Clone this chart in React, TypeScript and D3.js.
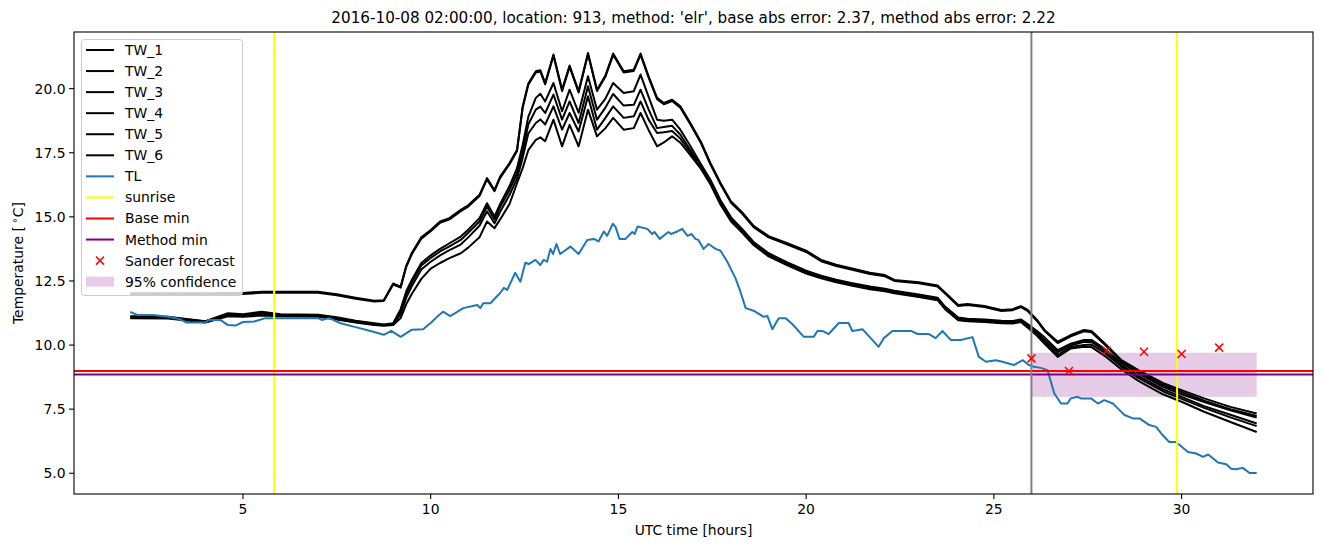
import React from 'react';
import * as d3 from 'd3';

const W = 1324;
const H = 547;
const PLOT = { left: 74, right: 1313, top: 32, bottom: 494 };

const twHours = [2.0, 3.0, 4.0, 4.6, 5.0, 5.5, 6.0, 7.0, 7.5, 8.0, 8.5, 8.75, 9.0, 9.2, 9.35, 9.5, 9.75, 10.0, 10.25, 10.5, 10.8, 11.0, 11.3, 11.5, 11.7, 11.85, 12.1, 12.3, 12.45, 12.6, 12.8, 12.92, 13.05, 13.27, 13.5, 13.7, 13.94, 14.19, 14.43, 14.65, 14.86, 15.14, 15.41, 15.59, 15.8, 16.03, 16.21, 16.43, 16.65, 16.92, 17.2, 17.45, 17.72, 18.0, 18.3, 18.6, 19.0, 19.5, 20.0, 20.4, 20.8, 21.2, 21.7, 22.1, 22.35, 23.0, 23.5, 23.7, 24.05, 24.3, 24.75, 25.2, 25.5, 25.72, 25.9, 26.15, 26.35, 26.7, 27.05, 27.4, 27.6, 27.95, 28.4, 28.85, 29.5, 30.0, 30.6, 31.3, 32.0];

const tw1 = [12.02, 12.02, 12.02, 12.03, 12.03, 12.08, 12.08, 12.08, 11.98, 11.85, 11.73, 11.75, 12.4, 12.28, 13.1, 13.6, 14.2, 14.49, 14.82, 14.95, 15.27, 15.45, 15.86, 16.51, 16.05, 16.57, 17.1, 17.62, 19.3, 20.2, 20.68, 20.72, 20.22, 21.33, 19.96, 20.9, 19.9, 21.39, 19.96, 20.5, 21.37, 20.68, 20.74, 21.37, 20.5, 19.64, 19.44, 19.57, 19.31, 18.65, 17.92, 17.1, 16.32, 15.6, 15.17, 14.65, 14.25, 13.97, 13.68, 13.32, 13.13, 13.0, 12.82, 12.73, 12.54, 12.45, 12.32, 12.05, 11.56, 11.6, 11.52, 11.37, 11.4, 11.52, 11.37, 10.98, 10.59, 10.13, 10.39, 10.59, 10.55, 10.07, 9.41, 9.02, 8.52, 8.24, 7.92, 7.59, 7.33];
const tw2 = [11.98, 11.98, 11.98, 11.99, 11.99, 12.04, 12.04, 12.04, 11.94, 11.81, 11.7, 11.72, 12.36, 12.24, 13.05, 13.55, 14.15, 14.44, 14.77, 14.9, 15.22, 15.4, 15.81, 16.46, 16.0, 16.52, 17.05, 17.57, 19.25, 20.15, 20.63, 20.67, 20.17, 21.28, 19.91, 20.85, 19.85, 21.34, 19.91, 20.45, 21.32, 20.63, 20.69, 21.32, 20.45, 19.59, 19.39, 19.52, 19.26, 18.6, 17.87, 17.05, 16.27, 15.55, 15.12, 14.6, 14.2, 13.92, 13.63, 13.27, 13.08, 12.95, 12.77, 12.68, 12.5, 12.41, 12.28, 12.01, 11.52, 11.56, 11.48, 11.33, 11.36, 11.48, 11.33, 10.94, 10.55, 10.08, 10.34, 10.54, 10.5, 10.02, 9.37, 8.97, 8.45, 8.17, 7.83, 7.5, 7.23];
const tw3 = [11.12, 11.1, 10.93, 11.24, 11.2, 11.3, 11.2, 11.18, 11.08, 10.95, 10.85, 10.8, 10.85, 11.4, 12.1, 12.55, 13.2, 13.5, 13.75, 13.97, 14.23, 14.5, 14.95, 15.53, 15.01, 15.5, 16.2, 16.9, 17.8, 18.9, 19.64, 19.8, 19.5, 20.22, 19.12, 19.96, 19.06, 20.48, 19.18, 19.6, 20.22, 19.83, 19.9, 20.55, 19.7, 18.79, 18.75, 18.79, 18.4, 17.75, 17.05, 16.45, 15.65, 14.98, 14.52, 14.02, 13.58, 13.22, 12.9, 12.7, 12.55, 12.42, 12.28, 12.2, 12.12, 11.97, 11.85, 11.5, 11.07, 11.03, 11.0, 10.95, 10.94, 11.0, 10.82, 10.55, 10.3, 9.8, 10.05, 10.2, 10.2, 9.85, 9.3, 8.9, 8.38, 8.08, 7.78, 7.46, 7.17];
const tw4 = [11.1, 11.08, 10.92, 11.2, 11.17, 11.25, 11.17, 11.16, 11.05, 10.93, 10.82, 10.78, 10.82, 11.3, 12.0, 12.45, 13.1, 13.4, 13.65, 13.85, 14.1, 14.38, 14.82, 15.4, 14.9, 15.38, 16.05, 16.7, 17.55, 18.6, 19.18, 19.3, 19.05, 19.77, 18.79, 19.5, 18.66, 20.09, 18.79, 19.25, 19.79, 19.34, 19.37, 19.96, 19.2, 18.46, 18.5, 18.55, 18.2, 17.6, 16.98, 16.38, 15.58, 14.92, 14.47, 13.97, 13.53, 13.18, 12.86, 12.66, 12.51, 12.38, 12.24, 12.16, 12.08, 11.93, 11.81, 11.46, 11.03, 10.99, 10.96, 10.91, 10.9, 10.96, 10.77, 10.48, 10.2, 9.72, 9.98, 10.13, 10.12, 9.78, 9.22, 8.8, 8.28, 7.98, 7.62, 7.28, 6.94];
const tw5 = [11.07, 11.06, 10.9, 11.17, 11.14, 11.2, 11.15, 11.14, 11.02, 10.9, 10.8, 10.77, 10.8, 11.2, 11.85, 12.3, 12.95, 13.25, 13.5, 13.7, 13.92, 14.2, 14.65, 15.22, 14.75, 15.2, 15.85, 16.5, 17.3, 18.25, 18.66, 18.8, 18.6, 19.31, 18.4, 19.05, 18.33, 19.7, 18.4, 18.85, 19.31, 18.86, 18.92, 19.5, 18.8, 18.27, 18.3, 18.35, 18.05, 17.5, 16.92, 16.32, 15.52, 14.87, 14.42, 13.93, 13.5, 13.15, 12.83, 12.63, 12.48, 12.35, 12.21, 12.13, 12.05, 11.9, 11.78, 11.43, 11.0, 10.96, 10.93, 10.88, 10.87, 10.93, 10.73, 10.42, 10.12, 9.62, 9.92, 10.0, 10.02, 9.7, 9.15, 8.72, 8.2, 7.9, 7.55, 7.18, 6.84];
const tw6 = [11.05, 11.04, 10.88, 11.12, 11.1, 11.15, 11.12, 11.1, 11.0, 10.88, 10.78, 10.75, 10.78, 11.05, 11.6, 12.0, 12.58, 12.98, 13.2, 13.39, 13.58, 13.8, 14.2, 14.82, 14.56, 14.9, 15.5, 16.31, 16.9, 17.6, 18.0, 18.1, 17.95, 18.79, 17.75, 18.59, 17.75, 19.18, 18.14, 18.45, 18.86, 18.4, 18.46, 19.05, 18.4, 17.75, 17.9, 18.14, 17.89, 17.4, 16.87, 16.27, 15.47, 14.82, 14.38, 13.9, 13.46, 13.11, 12.79, 12.6, 12.45, 12.32, 12.18, 12.1, 12.02, 11.87, 11.75, 11.4, 10.97, 10.93, 10.9, 10.85, 10.84, 10.9, 10.68, 10.36, 10.05, 9.54, 9.87, 9.93, 9.92, 9.58, 9.05, 8.6, 8.08, 7.79, 7.4, 7.0, 6.61];

const tlHours = [2.0, 2.2, 2.6, 3.0, 3.3, 3.5, 4.0, 4.1, 4.4, 4.6, 4.8, 5.0, 5.3, 5.6, 6.0, 6.5, 7.0, 7.1, 7.3, 7.6, 8.0, 8.4, 8.75, 8.95, 9.2, 9.5, 9.8, 10.0, 10.17, 10.33, 10.52, 10.87, 11.24, 11.32, 11.4, 11.59, 11.85, 11.95, 12.04, 12.25, 12.39, 12.52, 12.61, 12.79, 12.92, 13.01, 13.1, 13.19, 13.26, 13.35, 13.45, 13.72, 13.94, 14.17, 14.35, 14.47, 14.61, 14.7, 14.85, 14.92, 15.03, 15.19, 15.37, 15.43, 15.51, 15.77, 15.9, 15.96, 16.1, 16.33, 16.4, 16.57, 16.7, 16.84, 16.95, 17.05, 17.13, 17.27, 17.4, 17.59, 17.72, 17.9, 18.12, 18.25, 18.39, 18.6, 18.87, 18.97, 19.1, 19.27, 19.45, 19.63, 19.94, 20.2, 20.3, 20.43, 20.6, 20.87, 21.13, 21.23, 21.5, 21.72, 21.93, 22.07, 22.3, 22.79, 22.97, 23.27, 23.45, 23.63, 23.85, 24.12, 24.43, 24.6, 24.79, 25.05, 25.23, 25.53, 25.77, 25.93, 26.07, 26.25, 26.43, 26.61, 26.79, 26.96, 27.05, 27.23, 27.32, 27.59, 27.77, 27.94, 28.17, 28.3, 28.48, 28.7, 28.88, 29.14, 29.32, 29.5, 29.67, 29.85, 30.17, 30.39, 30.57, 30.71, 30.97, 31.19, 31.32, 31.45, 31.63, 31.81, 32.0];
const tlValues = [11.29, 11.17, 11.17, 11.1, 11.02, 10.88, 10.88, 10.98, 10.98, 10.78, 10.76, 10.9, 10.92, 11.05, 11.05, 11.05, 11.05, 10.98, 11.05, 10.85, 10.7, 10.55, 10.4, 10.55, 10.32, 10.6, 10.62, 10.86, 11.1, 11.3, 11.13, 11.44, 11.56, 11.44, 11.63, 11.63, 12.03, 12.23, 12.15, 12.82, 12.47, 13.21, 13.16, 13.32, 13.12, 13.32, 13.25, 13.75, 13.55, 13.94, 13.55, 13.84, 13.55, 14.1, 14.14, 14.04, 14.43, 14.26, 14.73, 14.62, 14.14, 14.14, 14.41, 14.33, 14.62, 14.53, 14.33, 14.41, 14.14, 14.41, 14.33, 14.43, 14.53, 14.26, 14.33, 14.14, 14.1, 13.75, 13.94, 13.75, 13.68, 13.25, 12.6, 12.08, 11.44, 11.34, 11.1, 11.13, 10.62, 11.05, 11.05, 10.82, 10.32, 10.32, 10.55, 10.55, 10.43, 10.86, 10.86, 10.55, 10.62, 10.27, 9.93, 10.27, 10.55, 10.55, 10.43, 10.43, 10.27, 10.55, 10.2, 10.2, 10.31, 9.54, 9.35, 9.41, 9.35, 9.22, 9.41, 9.22, 9.15, 9.11, 9.02, 8.11, 7.72, 7.72, 7.92, 7.98, 7.92, 7.92, 7.72, 7.85, 7.72, 7.53, 7.27, 7.14, 7.14, 6.88, 6.81, 6.48, 6.22, 6.22, 5.83, 5.77, 5.64, 5.73, 5.42, 5.35, 5.18, 5.16, 5.21, 5.01, 5.01];

const sunriseHours = [5.83, 29.88];
const forecastHours = [26, 27, 28, 29, 30, 31];
const forecastValues = [9.48, 8.99, 9.78, 9.74, 9.65, 9.9];
const baseMin = 8.99;
const methodMin = 8.85;
const nowHour = 26;
const confRange = [7.98, 9.7];
const confHours = [26, 32];
const xTicks = [5, 10, 15, 20, 25, 30];
const yTicks = [5, 7.5, 10, 12.5, 15, 17.5, 20];
const twNames = ['TW_1', 'TW_2', 'TW_3', 'TW_4', 'TW_5', 'TW_6'];
const twSeries = [tw1, tw2, tw3, tw4, tw5, tw6];

const TITLE = "2016-10-08 02:00:00, location: 913, method: 'elr', base abs error: 2.37, method abs error: 2.22";
const FONT = "'DejaVu Sans', sans-serif";
const BLUE = '#1f77b4';
const LW = 2;
const FS = 13.9;

export default function App() {
  const allY = [...twSeries.flat(), ...tlValues];
  const [yMin, yMax] = d3.extent(allY) as [number, number];
  const yPad = (yMax - yMin) * 0.05;
  const xPad = (32 - 2) * 0.05;
  const x = d3.scaleLinear().domain([2 - xPad, 32 + xPad]).range([PLOT.left, PLOT.right]);
  const y = d3.scaleLinear().domain([yMin - yPad, yMax + yPad]).range([PLOT.bottom, PLOT.top]);

  const line = d3.line<[number, number]>().x((d) => x(d[0])).y((d) => y(d[1]));
  const fmt = d3.format('.1f');

  const cross = (cx: number, cy: number, s: number, key: string | number) => (
    <g key={key} stroke="red" strokeWidth={1.5}>
      <line x1={cx - s} y1={cy - s} x2={cx + s} y2={cy + s} />
      <line x1={cx - s} y1={cy + s} x2={cx + s} y2={cy - s} />
    </g>
  );

  const legendItems: { label: string; kind: string; color: string }[] = [
    ...twNames.map((n) => ({ label: n, kind: 'line', color: 'black' })),
    { label: 'TL', kind: 'line', color: BLUE },
    { label: 'sunrise', kind: 'line', color: 'yellow' },
    { label: 'Base min', kind: 'line', color: 'red' },
    { label: 'Method min', kind: 'line', color: 'purple' },
    { label: 'Sander forecast', kind: 'marker', color: 'red' },
    { label: '95% confidence', kind: 'patch', color: 'purple' },
  ];

  return (
    <svg width={W} height={H} style={{ position: 'absolute', left: 0, top: 0, background: 'white' }} fontFamily={FONT}>
      <rect x={0} y={0} width={W} height={H} fill="white" />
      <defs>
        <clipPath id="plotclip">
          <rect x={PLOT.left} y={PLOT.top} width={PLOT.right - PLOT.left} height={PLOT.bottom - PLOT.top} />
        </clipPath>
      </defs>
      <g clipPath="url(#plotclip)">
        <rect
          x={x(confHours[0])}
          y={y(confRange[1])}
          width={x(confHours[1]) - x(confHours[0])}
          height={y(confRange[0]) - y(confRange[1])}
          fill="purple"
          fillOpacity={0.2}
        />
        {twSeries.map((s, i) => (
          <path
            key={i}
            d={line(twHours.map((h, j) => [h, s[j]] as [number, number])) || ''}
            fill="none"
            stroke="black"
            strokeWidth={LW}
            strokeLinejoin="round"
          />
        ))}
        <path
          d={line(tlHours.map((h, j) => [h, tlValues[j]] as [number, number])) || ''}
          fill="none"
          stroke={BLUE}
          strokeWidth={LW}
          strokeLinejoin="round"
        />
        {sunriseHours.map((h, i) => (
          <line key={i} x1={x(h)} x2={x(h)} y1={PLOT.top} y2={PLOT.bottom} stroke="yellow" strokeWidth={LW} />
        ))}
        <line x1={PLOT.left} x2={PLOT.right} y1={y(baseMin)} y2={y(baseMin)} stroke="red" strokeWidth={LW} />
        <line x1={PLOT.left} x2={PLOT.right} y1={y(methodMin)} y2={y(methodMin)} stroke="purple" strokeWidth={LW} />
        <line x1={x(nowHour)} x2={x(nowHour)} y1={PLOT.top} y2={PLOT.bottom} stroke="gray" strokeWidth={LW} />
        {forecastHours.map((h, i) => cross(x(h), y(forecastValues[i]), 4, i))}
      </g>
      <rect
        x={PLOT.left}
        y={PLOT.top}
        width={PLOT.right - PLOT.left}
        height={PLOT.bottom - PLOT.top}
        fill="none"
        stroke="black"
        strokeWidth={1.1}
      />
      {xTicks.map((t) => (
        <g key={t}>
          <line x1={x(t)} x2={x(t)} y1={PLOT.bottom} y2={PLOT.bottom + 4.9} stroke="black" strokeWidth={1.1} />
          <text x={x(t)} y={PLOT.bottom + 20} textAnchor="middle" fontSize={FS}>
            {t}
          </text>
        </g>
      ))}
      {yTicks.map((t) => (
        <g key={t}>
          <line x1={PLOT.left - 4.9} x2={PLOT.left} y1={y(t)} y2={y(t)} stroke="black" strokeWidth={1.1} />
          <text x={PLOT.left - 8.5} y={y(t) + 5} textAnchor="end" fontSize={FS}>
            {fmt(t)}
          </text>
        </g>
      ))}
      <text x={(PLOT.left + PLOT.right) / 2} y={535} textAnchor="middle" fontSize={FS}>
        UTC time [hours]
      </text>
      <text transform={`translate(23, ${(PLOT.top + PLOT.bottom) / 2}) rotate(-90)`} textAnchor="middle" fontSize={FS}>
        {'Temperature [\u2009'}
        <tspan dy={-5} fontSize={10}>∘</tspan>
        <tspan dy={5}>C]</tspan>
      </text>
      <text x={(PLOT.left + PLOT.right) / 2} y={23} textAnchor="middle" fontSize={15.2}>
        {TITLE}
      </text>
      <g>
        <rect x={81.5} y={39.5} width={161} height={256} rx={3} fill="white" fillOpacity={0.8} stroke="#cccccc" strokeWidth={1} />
        {legendItems.map((it, i) => {
          const cy = 50 + i * 21.06;
          let handle: React.ReactNode = null;
          if (it.kind === 'line') {
            handle = <line x1={86} x2={114} y1={cy} y2={cy} stroke={it.color} strokeWidth={LW} />;
          } else if (it.kind === 'marker') {
            handle = cross(100, cy, 4, 'm');
          } else {
            handle = <rect x={86} y={cy - 5} width={28} height={10} fill={it.color} fillOpacity={0.2} />;
          }
          return (
            <g key={it.label}>
              {handle}
              <text x={125} y={cy + 5} fontSize={FS}>
                {it.label}
              </text>
            </g>
          );
        })}
      </g>
    </svg>
  );
}
